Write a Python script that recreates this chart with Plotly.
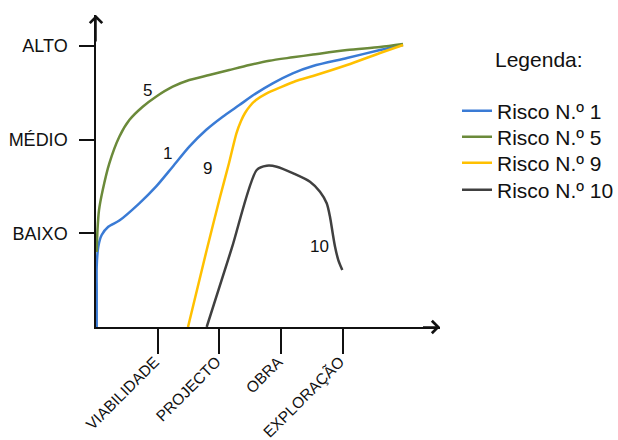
import plotly.graph_objects as go

# Project phases (x axis) and risk levels (y axis)
phases = ["VIABILIDADE", "PROJECTO", "OBRA", "EXPLORAÇÃO"]
phase_pos = [1, 2, 3, 4]
levels = ["BAIXO", "MÉDIO", "ALTO"]
level_pos = [1, 2, 3]

# Risk curves, x in phase units, y in level units
r1_x = [0.011, 0.011, 0.011, 0.037, 0.092, 0.199, 0.378, 0.702, 0.972, 1.243, 1.512, 1.783,
        2.054, 2.323, 2.593, 2.864, 3.188, 3.517, 4.068, 4.603, 4.976]
r1_y = [0.0, 0.395, 0.644, 0.857, 0.982, 1.070, 1.136, 1.320, 1.498, 1.711, 1.925, 2.103,
        2.245, 2.369, 2.494, 2.601, 2.708, 2.786, 2.871, 2.956, 3.010]

r5_x = [0.011, 0.024, 0.049, 0.109, 0.216, 0.378, 0.540, 0.757, 0.972, 1.243, 1.512, 1.836,
        2.160, 2.485, 2.809, 3.188, 3.517, 4.068, 4.603, 4.976]
r5_y = [0.800, 1.035, 1.249, 1.462, 1.747, 2.031, 2.209, 2.351, 2.458, 2.565, 2.636, 2.689,
        2.743, 2.796, 2.842, 2.878, 2.908, 2.956, 2.988, 3.020]

r9_x = [1.491, 1.794, 2.010, 2.156, 2.277, 2.350, 2.415, 2.496, 2.593, 2.767, 2.998, 3.241,
        3.517, 4.068, 4.603, 4.976]
r9_y = [0.0, 0.822, 1.387, 1.750, 2.070, 2.199, 2.284, 2.359, 2.423, 2.494, 2.561, 2.625,
        2.679, 2.796, 2.924, 3.010]

r10_x = [1.794, 2.199, 2.605, 2.767, 2.929, 3.198, 3.468, 3.630, 3.739, 3.792, 3.836, 3.874,
         3.927, 3.992]
r10_y = [0.0, 0.838, 1.676, 1.721, 1.711, 1.640, 1.551, 1.444, 1.320, 1.177, 1.000, 0.857,
         0.715, 0.608]

names = ["Risco N.º 1", "Risco N.º 5", "Risco N.º 9", "Risco N.º 10"]
colors = ["#3a7bd5", "#6b8a3a", "#ffc000", "#404040"]
xs_all = [r1_x, r5_x, r9_x, r10_x]
ys_all = [r1_y, r5_y, r9_y, r10_y]

# Curve number labels placed next to each curve
tag_text = ["5", "1", "9", "10"]
tag_x = [0.838, 1.162, 1.810, 3.630]
tag_y = [2.529, 1.854, 1.694, 0.857]

FONT = "Liberation Sans, Arial, sans-serif"
X_MAX, Y_MAX = 5.575, 3.33
W, H = 618, 440

# One legend per risk so rows can sit close together
legend_ids = ["legend", "legend2", "legend3", "legend4"]
legend_rows_px = [111, 137, 163, 190]

fig = go.Figure()
for name, xs, ys, col, lg in zip(names, xs_all, ys_all, colors, legend_ids):
    fig.add_trace(go.Scatter(
        x=xs, y=ys, mode="lines", name=name, legend=lg,
        line=dict(color=col, width=2.5, shape="spline", smoothing=0.75),
    ))

for t, x, y in zip(tag_text, tag_x, tag_y):
    fig.add_annotation(x=x, y=y, text=t, showarrow=False,
                       font=dict(family=FONT, size=17, color="#111"))

# Arrow heads at the ends of both axes
fig.add_annotation(x=X_MAX, y=0, ax=X_MAX - 0.3, ay=0, axref="x", ayref="y",
                   text="", showarrow=True, arrowhead=4, arrowsize=1.6,
                   arrowwidth=1.5, arrowcolor="#111")
fig.add_annotation(x=0, y=Y_MAX, ax=0, ay=Y_MAX - 0.3, axref="x", ayref="y",
                   text="", showarrow=True, arrowhead=4, arrowsize=1.6,
                   arrowwidth=1.5, arrowcolor="#111")

fig.add_annotation(xref="paper", yref="paper", x=1.155, y=0.856,
                   xanchor="left", yanchor="middle",
                   text="Legenda:", showarrow=False,
                   font=dict(family=FONT, size=21, color="#111"))

fig.update_xaxes(
    range=[0, X_MAX], tickmode="array", tickvals=phase_pos, ticktext=phases,
    tickangle=-45, ticks="outside", ticklen=25, tickwidth=1.5, tickcolor="#111",
    ticklabelstandoff=-7, ticklabelshift=-3,
    showline=True, linecolor="#111", linewidth=1.5, showgrid=False, zeroline=False,
    tickfont=dict(family=FONT, size=15.5, color="#111"),
)
fig.update_yaxes(
    range=[0, Y_MAX], tickmode="array", tickvals=level_pos, ticktext=levels,
    ticks="outside", ticklen=15, tickwidth=1.5, tickcolor="#111", ticklabelstandoff=8,
    showline=True, linecolor="#111", linewidth=1.5, showgrid=False, zeroline=False,
    tickfont=dict(family=FONT, size=18, color="#111"),
)

layout_legends = {}
for lg, row in zip(legend_ids, legend_rows_px):
    layout_legends[lg] = dict(
        xref="container", yref="container", x=457 / W, y=1 - row / H,
        xanchor="left", yanchor="middle",
        font=dict(family=FONT, size=21, color="#111"),
        bgcolor="rgba(0,0,0,0)", borderwidth=0,
    )

fig.update_layout(
    width=W, height=H,
    margin=dict(l=96, r=178, t=15, b=113, autoexpand=False),
    paper_bgcolor="white", plot_bgcolor="white",
    showlegend=True,
    **layout_legends,
)

fig.write_html("out.html")
